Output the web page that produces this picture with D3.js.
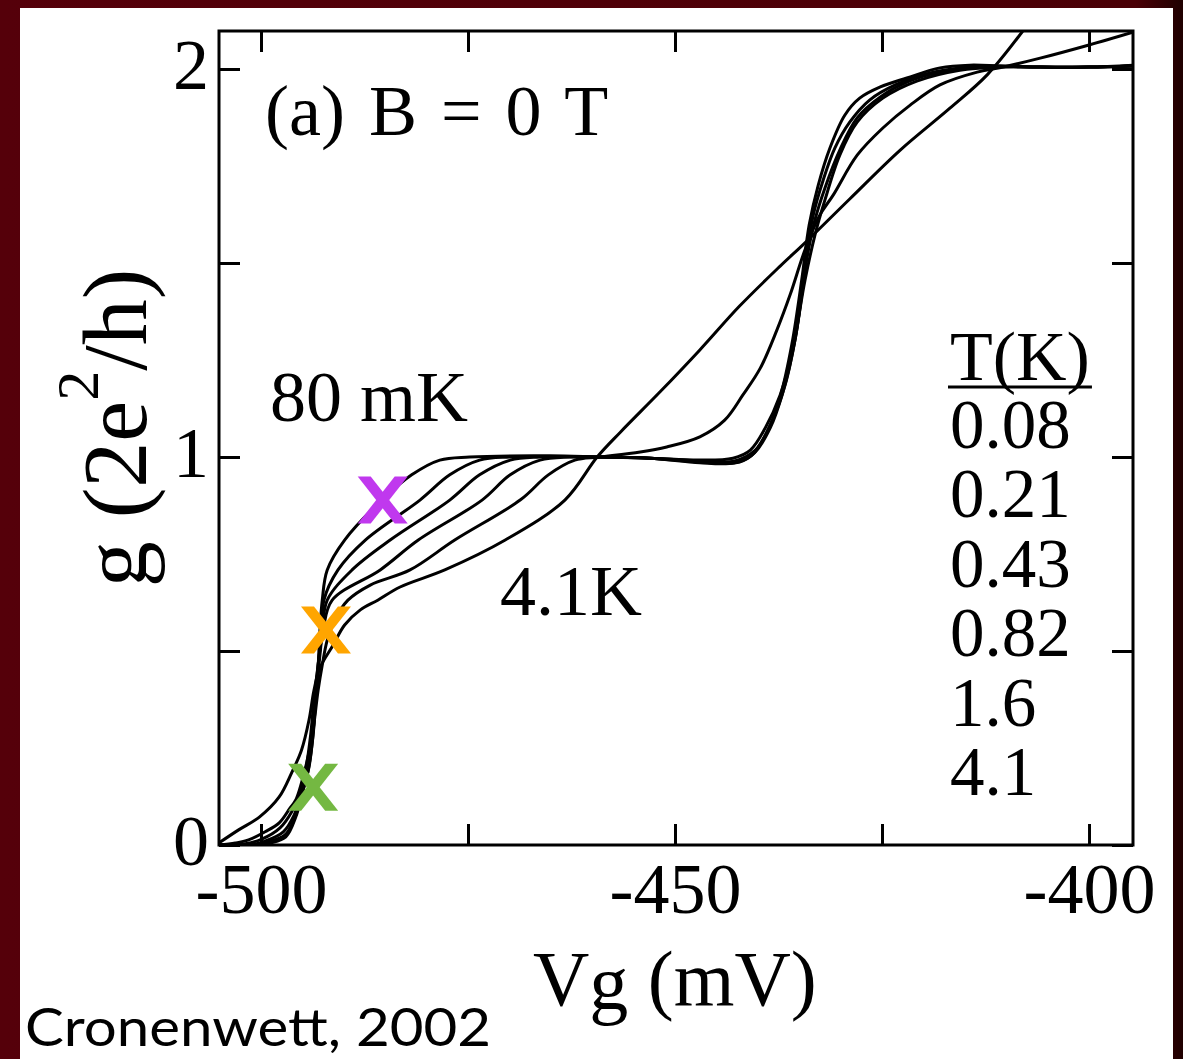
<!DOCTYPE html>
<html>
<head>
<meta charset="utf-8">
<script src="https://cdn.jsdelivr.net/npm/d3@7"></script>
<style>
  html, body { margin: 0; padding: 0; background: #4f0008; overflow: hidden; }
  svg { display: block; }
</style>
</head>
<body>
<div id="chart"></div>
<script>
// ---- data: g (2e^2/h) against Vg (mV) ----
var vgDomain = [-505.07, -394.69];
var gDomain = [0, 2.098];
var vgTicks = [-500, -475, -450, -425, -400];
var vgLabels = [-500, -450, -400];
var gTicks = [0, 0.5, 1, 1.5, 2];
var gLabels = [0, 1, 2];
var tempLabels = ["0.08", "0.21", "0.43", "0.82", "1.6", "4.1"];

var g008 = [[-505.1,0],[-500.1,0],[-498.9,0.005],[-497.0,0.021],[-495.8,0.072],[-495.0,0.134],[-494.2,0.201],[-493.7,0.289],[-493.4,0.374],[-493.1,0.459],[-492.9,0.546],[-492.6,0.631],[-492.0,0.709],[-489.9,0.786],[-485.4,0.889],[-481.8,0.954],[-478.4,0.992],[-474.8,1.0],[-465.1,1.003],[-459.1,1.0],[-453.0,0.997],[-447.0,0.985],[-442.8,0.985],[-440.7,1.005],[-438.9,1.064],[-437.3,1.155],[-435.9,1.289],[-434.7,1.456],[-433.8,1.598],[-432.7,1.701],[-431.3,1.796],[-429.5,1.881],[-427.7,1.925],[-425.2,1.954],[-422.0,1.977],[-418.0,2.003],[-414.4,2.010],[-410.8,2.008],[-405.9,2.005],[-400.0,2.005],[-394.7,2.010]];
var g021 = [[-505.1,0],[-500.7,0],[-499.2,0.008],[-497.1,0.026],[-495.9,0.072],[-495.1,0.129],[-494.3,0.193],[-493.7,0.284],[-493.4,0.374],[-493.0,0.464],[-492.6,0.554],[-492.4,0.631],[-490.7,0.709],[-487.4,0.786],[-480.8,0.889],[-477.2,0.954],[-473.6,0.992],[-469.9,1.0],[-459.1,1.0],[-453.0,0.997],[-447.0,0.987],[-442.2,0.987],[-440.3,1.013],[-438.5,1.075],[-437.0,1.165],[-435.5,1.302],[-434.2,1.508],[-433.3,1.624],[-432.1,1.714],[-430.7,1.796],[-428.9,1.863],[-426.5,1.920],[-423.4,1.959],[-419.2,1.990],[-414.4,2.005],[-410.8,2.008],[-405.9,2.005],[-400.0,2.005],[-394.7,2.008]];
var g043 = [[-505.1,0],[-501.3,0],[-499.5,0.010],[-497.3,0.034],[-496.0,0.077],[-495.2,0.129],[-494.4,0.193],[-493.8,0.284],[-493.5,0.374],[-493.1,0.464],[-492.6,0.554],[-492.0,0.631],[-489.0,0.709],[-484.4,0.786],[-477.2,0.889],[-473.6,0.954],[-469.9,0.992],[-466.3,1.0],[-459.1,1.0],[-453.0,0.997],[-447.0,0.990],[-442.8,0.990],[-440.3,1.018],[-438.5,1.082],[-436.7,1.186],[-435.3,1.327],[-434.1,1.508],[-433.1,1.611],[-431.9,1.693],[-430.1,1.791],[-428.0,1.874],[-425.2,1.928],[-422.0,1.966],[-418.0,1.992],[-413.2,2.005],[-405.9,2.005],[-400.0,2.005],[-394.7,2.008]];
var g082 = [[-505.1,0],[-501.9,0.003],[-499.9,0.015],[-497.7,0.044],[-496.3,0.085],[-495.3,0.134],[-494.6,0.193],[-494.0,0.284],[-493.6,0.374],[-493.1,0.464],[-492.5,0.554],[-491.4,0.631],[-485.6,0.709],[-481.0,0.786],[-473.3,0.889],[-469.9,0.954],[-466.3,0.992],[-462.7,1.0],[-459.1,1.0],[-453.0,0.997],[-447.0,0.992],[-443.0,0.997],[-440.9,1.018],[-439.1,1.075],[-437.3,1.160],[-435.8,1.276],[-434.3,1.456],[-433.1,1.572],[-431.9,1.662],[-430.1,1.778],[-428.0,1.863],[-424.9,1.925],[-420.8,1.969],[-415.6,1.997],[-410.8,2.005],[-405.9,2.005],[-400.0,2.005],[-394.7,2.008]];
var g16 = [[-505.1,0],[-503.1,0.005],[-501.5,0.013],[-499.5,0.034],[-497.8,0.057],[-496.5,0.095],[-495.8,0.116],[-494.7,0.193],[-493.8,0.284],[-493.1,0.399],[-492.6,0.464],[-492.0,0.528],[-491.1,0.580],[-489.5,0.631],[-486.8,0.670],[-482.0,0.709],[-476.6,0.786],[-468.7,0.889],[-465.3,0.954],[-462.1,0.992],[-459.1,1.0],[-454.2,1.013],[-451.0,1.026],[-447.0,1.052],[-444.0,1.095],[-441.8,1.160],[-439.7,1.229],[-437.7,1.327],[-436.1,1.418],[-434.3,1.534],[-432.5,1.624],[-430.9,1.675],[-428.0,1.778],[-424.9,1.848],[-421.6,1.907],[-418.0,1.959],[-413.5,1.992],[-410.8,2.003],[-405.9,2.028],[-400.0,2.062],[-394.7,2.095]];
var g41 = [[-505.1,0.005],[-502.7,0.039],[-500.2,0.072],[-497.8,0.124],[-496.3,0.186],[-495.1,0.245],[-494.2,0.322],[-493.6,0.399],[-492.9,0.456],[-491.3,0.515],[-489.9,0.567],[-488.0,0.606],[-485.9,0.631],[-483.2,0.665],[-477.8,0.709],[-470.5,0.786],[-463.3,0.889],[-459.4,1.0],[-456.6,1.064],[-451.8,1.168],[-447.0,1.276],[-442.2,1.389],[-437.3,1.492],[-434.3,1.552],[-428.9,1.665],[-422.8,1.791],[-416.8,1.899],[-412.3,1.985],[-408.0,2.098]];

// coloured crosses drawn on top of the figure
var markVg = [-485.3, -492.15, -493.7];
var markG = [0.889, 0.554, 0.149];
var markColor = ["#c038ee", "#ffa500", "#74b842"];

var W = 1183, H = 1059;
var serif = "'Liberation Serif', 'Times New Roman', serif";

var svg = d3.select("#chart").append("svg")
    .attr("width", W)
    .attr("height", H);

// dark red frame + white sheet
var defs = svg.append("defs");
var grad = defs.append("linearGradient").attr("id", "bg").attr("x1", 0).attr("x2", 1).attr("y1", 0).attr("y2", 0);
grad.append("stop").attr("offset", "0%").attr("stop-color", "#55000a");
grad.append("stop").attr("offset", "96%").attr("stop-color", "#4a0006");
grad.append("stop").attr("offset", "100%").attr("stop-color", "#1f0000");
svg.append("rect").attr("width", W).attr("height", H).attr("fill", "url(#bg)");
svg.append("rect").attr("x", 20).attr("y", 8).attr("width", 1153).attr("height", H - 8).attr("fill", "#fff");

var x = d3.scaleLinear().domain(vgDomain).range([219, 1133]);
var y = d3.scaleLinear().domain(gDomain).range([845, 31]);

defs.append("clipPath").attr("id", "plot")
  .append("rect").attr("x", 219).attr("y", 31).attr("width", 914).attr("height", 814);

// curves
var line = d3.line()
    .x(function(d) { return x(d[0]); })
    .y(function(d) { return y(d[1]); })
    .curve(d3.curveCatmullRom.alpha(0.5));

var series = [g008, g021, g043, g082, g16, g41];
svg.append("g").attr("clip-path", "url(#plot)")
  .selectAll("path.trace")
  .data(series)
  .enter().append("path")
    .attr("class", "trace")
    .attr("d", line)
    .attr("fill", "none")
    .attr("stroke", "#000")
    .attr("stroke-width", 3)
    .attr("stroke-linejoin", "round");

// axes: ticks point inward on all four sides
function styleAxis(g) {
  g.select(".domain").remove();
  g.selectAll(".tick line").attr("stroke", "#000").attr("stroke-width", 3);
  g.selectAll(".tick text").attr("fill", "#000").style("font-family", serif).style("font-size", "72px");
}

svg.append("g")
    .attr("transform", "translate(0,845)")
    .call(d3.axisBottom(x).tickValues(vgTicks).tickSize(-21).tickPadding(17)
      .tickFormat(function(d) { return vgLabels.indexOf(d) >= 0 ? String(d) : ""; }))
    .call(styleAxis);

svg.append("g")
    .attr("transform", "translate(0,31)")
    .call(d3.axisTop(x).tickValues(vgTicks).tickSize(-21).tickFormat(""))
    .call(styleAxis);

svg.append("g")
    .attr("transform", "translate(219,0)")
    .call(d3.axisLeft(y).tickValues(gTicks).tickSize(-21).tickPadding(10)
      .tickFormat(function(d) { return gLabels.indexOf(d) >= 0 ? String(d) : ""; }))
    .call(styleAxis)
    .selectAll(".tick text").attr("dy", "0.27em");

svg.append("g")
    .attr("transform", "translate(1133,0)")
    .call(d3.axisRight(y).tickValues(gTicks).tickSize(-21).tickFormat(""))
    .call(styleAxis);

svg.append("rect")
    .attr("x", 219).attr("y", 31).attr("width", 914).attr("height", 814)
    .attr("fill", "none").attr("stroke", "#000").attr("stroke-width", 3);

// text annotations
function label(txt, px, py, size) {
  return svg.append("text")
      .attr("x", px).attr("y", py)
      .style("font-family", serif)
      .style("font-size", (size || 72) + "px")
      .attr("fill", "#000")
      .text(txt);
}

label("(a) B = 0 T", 265, 135).style("word-spacing", "6px");
label("80 mK", 270, 421);
label("4.1K", 500, 615);

var tk = label("T(K)", 950, 380, 70);
var tkw = tk.node().getComputedTextLength();
svg.append("line")
    .attr("x1", 948).attr("x2", 950 + tkw + 2)
    .attr("y1", 387).attr("y2", 387)
    .attr("stroke", "#000").attr("stroke-width", 3);

tempLabels.forEach(function(t, i) {
  label(t, 950, 448 + i * 69.4, 69);
});

// axis titles
var yt = svg.append("text")
    .attr("transform", "translate(146,428) rotate(-90)")
    .attr("text-anchor", "middle")
    .style("font-family", serif)
    .style("font-size", "92px")
    .attr("fill", "#000");
yt.append("tspan").text("g (2e");
yt.append("tspan").attr("dy", -48).style("font-size", "60px").text("2");
yt.append("tspan").attr("dy", 48).text("/h)");

var xt = svg.append("text")
    .attr("x", 533).attr("y", 1005)
    .style("font-family", serif)
    .style("font-size", "78px")
    .attr("fill", "#000");
xt.append("tspan").text("V");
xt.append("tspan").attr("dy", 4).text("g");
xt.append("tspan").attr("dy", -4).text(" (mV)");

svg.append("text")
    .attr("x", 25).attr("y", 1046)
    .attr("textLength", 466)
    .attr("lengthAdjust", "spacingAndGlyphs")
    .style("font-family", "Lato, 'Open Sans', sans-serif")
    .style("font-size", "52px")
    .attr("fill", "#000")
    .text("Cronenwett, 2002");

// crosses
var hw = 25, hh = 23.5, sw = 13;
markVg.forEach(function(v, i) {
  var cx = x(v), cy = y(markG[i]);
  var t = cy - hh, b = cy + hh, l = cx - hw, r = cx + hw;
  var p1 = [[l, t], [l + sw, t], [r, b], [r - sw, b]];
  var p2 = [[r - sw, t], [r, t], [l + sw, b], [l, b]];
  [p1, p2].forEach(function(p) {
    svg.append("path")
        .attr("d", "M" + p.join("L") + "Z")
        .attr("fill", markColor[i]);
  });
});
</script>
</body>
</html>
